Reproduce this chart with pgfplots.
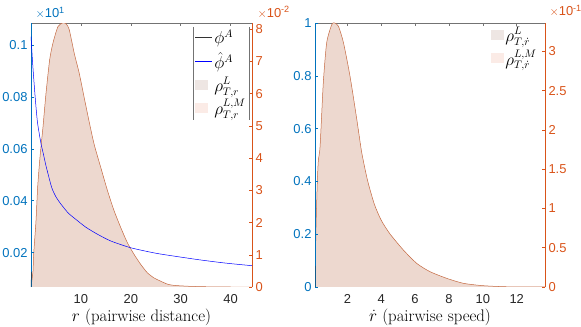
\documentclass[border=0pt]{standalone}
\usepackage{fontspec}
\usepackage{pgfplots}
\usepackage{pgfplotstable}
\pgfplotsset{compat=1.18}
\newfontfamily\hv{Liberation Sans}
\definecolor{mblue}{RGB}{0,114,189}
\definecolor{morange}{RGB}{217,83,25}
\definecolor{areafill}{RGB}{237,216,207}
\definecolor{areaedge}{RGB}{196,104,64}
\definecolor{legA}{RGB}{238,230,227}
\definecolor{legB}{RGB}{251,235,230}
\definecolor{ticktext}{RGB}{38,38,38}
\newcommand{\tickfont}{\hv\fontsize{13}{15}\selectfont}
\newcommand{\labfont}{\fontsize{16.8}{19}\selectfont}
\newcommand{\legfont}{\fontsize{16}{18}\selectfont}

% density of r (units 1e-2)
\pgfplotstableread{
r rho
0 0
0.4 0.49
0.53 1.01
1.0 2.05
1.33 3.09
1.74 3.92
2.13 4.55
2.4 4.96
3.0 6.0
3.74 7.05
4.4 7.57
5.4 8.08
6.33 8.19
7.0 8.17
7.67 7.98
8.67 7.25
9.67 6.63
10.67 5.87
11.67 5.12
12.67 4.42
14.0 3.70
15.33 2.99
16.67 2.36
18.0 1.84
19.33 1.37
20.67 1.01
22.0 0.70
23.33 0.44
24.67 0.28
26.0 0.18
27.33 0.09
28.67 0.05
32.0 0.02
36.0 0.005
40.0 0
44.3 0
}\rhoR

% estimated interaction kernel
\pgfplotstableread{
r phi
0 0.1032
0.33 0.0929
0.67 0.0839
1.0 0.0761
1.33 0.0697
2.0 0.0620
2.47 0.0581
3.0 0.0535
4.13 0.0452
5.0 0.0415
6.0 0.0387
7.5 0.0352
9.33 0.0323
11.0 0.0298
13.33 0.0271
16.0 0.0245
20.0 0.0219
25.0 0.0198
29.33 0.0185
34.0 0.0172
39.0 0.0160
44.3 0.0150
}\phihat

% density of rdot (units 1e-1)
\pgfplotstableread{
r rho
0.09 0
0.15 0.77
0.23 1.36
0.29 1.62
0.39 1.79
0.58 2.60
0.78 3.11
1.08 3.34
1.24 3.36
1.47 3.32
1.77 3.11
2.16 2.68
2.56 2.13
2.85 1.71
3.2 1.35
3.6 1.05
4.0 0.85
4.5 0.68
5.31 0.47
6.10 0.30
6.88 0.195
7.87 0.11
8.85 0.047
10.0 0.017
11.4 0.003
13.67 0
}\rhoV

\pgfplotsset{
  panel/.style={scale only axis, height=264bp, at={(#1,0bp)}, anchor=south west,
    clip mode=individual,
    axis line style={-, line width=0.5bp}, tick align=inside, major tick length=3bp,
    /pgf/number format/assume math mode=true, tick label style={font=\tickfont},
    every tick/.append style={line width=0.5bp}},
}

\begin{document}
\begin{tikzpicture}
\useasboundingbox (-31bp,-40bp) rectangle (550bp,287bp);

% ---- left panel, right axis (density)
\begin{axis}[panel=0bp, width=221bp,
  xmin=0, xmax=44.3, ymin=0, ymax=8.19,
  axis x line*=top, axis y line*=right,
  x axis line style={black!55}, xtick={10,20,30,40}, xticklabels={}, xtick style={black!55},
  y axis line style={morange}, ytick={0,...,8}, ytick style={morange},
  yticklabel style={text=morange}]
\addplot[fill=areafill, draw=none, smooth, tension=0.4] table {\rhoR} \closedcycle;
\addplot[draw=areaedge, line width=0.5bp, smooth, tension=0.4] table {\rhoR};
\node[anchor=base west, text=morange, font=\tickfont] at (rel axis cs:1,1) [xshift=2bp, yshift=6bp] {$\times$10\textsuperscript{-2}};
\end{axis}

% ---- left panel, left axis (kernels)
\begin{axis}[panel=0bp, width=221bp,
  xmin=0, xmax=44.3, ymin=0.0068, ymax=0.1084,
  axis x line*=bottom, axis y line*=left,
  x axis line style={draw=none}, xtick={10,20,30,40}, xtick style={draw=none},
  xticklabel style={text=ticktext, yshift=-4bp},
  y axis line style={mblue}, ytick={0.02,0.04,0.06,0.08,0.1},
  yticklabels={0.02,0.04,0.06,0.08,0.1}, ytick style={mblue},
  yticklabel style={text=mblue},
  xlabel={$r$ (pairwise distance)}, xlabel style={font=\labfont, yshift=2bp},
  legend cell align=left,
  legend style={name=legL, at={(0.986,0.985)}, anchor=north east, draw=none, fill=none,
    font=\legfont, inner sep=1bp, row sep=3bp}]
\addplot[black!80, line width=0.5bp] coordinates {(0.02,0.0068) (0.08,0.0125)};
\addlegendentry{$\phi^A$}
\addplot[blue, line width=0.5bp, smooth, tension=0.4] table {\phihat};
\addlegendentry{$\hat{\phi}^A$}
\addlegendimage{legend image code/.code={\fill[legA] (0bp,-4bp) rectangle (12bp,5bp);}}
\addlegendentry{$\rho^L_{T,r}$}
\addlegendimage{legend image code/.code={\fill[legB] (0bp,-4bp) rectangle (12bp,5bp);}}
\addlegendentry{$\rho^{L,M}_{T,r}$}
\node[anchor=base west, text=mblue, font=\tickfont] at (rel axis cs:0,1) [xshift=1bp, yshift=5bp] {$\times$10\textsuperscript{1}};
\end{axis}
\draw[black!55, line width=0.5bp] (legL.north west) -- (legL.south west);
\draw[black!55, line width=0.5bp] (legL.north east) -- (legL.south east);

% ---- right panel, right axis (density)
\begin{axis}[panel=284bp, width=230bp,
  xmin=0.09, xmax=13.67, ymin=0, ymax=3.36,
  axis x line*=top, axis y line*=right,
  x axis line style={black!55}, xtick={2,4,...,12}, xticklabels={}, xtick style={black!55},
  y axis line style={morange}, ytick={0,0.5,...,3}, yticklabels={0,0.5,1,1.5,2,2.5,3},
  ytick style={morange}, yticklabel style={text=morange}]
\addplot[fill=areafill, draw=none, smooth, tension=0.4] table {\rhoV} \closedcycle;
\addplot[draw=areaedge, line width=0.5bp, smooth, tension=0.4] table {\rhoV};
\node[anchor=base west, text=morange, font=\tickfont] at (rel axis cs:1,1) [xshift=1bp, yshift=7bp] {$\times$10\textsuperscript{-1}};
\end{axis}

% ---- right panel, left axis
\begin{axis}[panel=284bp, width=230bp,
  xmin=0.09, xmax=13.67, ymin=0, ymax=1,
  axis x line*=bottom, axis y line*=left,
  x axis line style={draw=none}, xtick={2,4,...,12}, xtick style={draw=none},
  xticklabel style={text=ticktext, yshift=-4bp},
  y axis line style={mblue}, ytick={0,0.2,...,1}, yticklabels={0,0.2,0.4,0.6,0.8,1},
  ytick style={mblue}, yticklabel style={text=mblue},
  xlabel={$\dot{r}$ (pairwise speed)}, xlabel style={font=\labfont, yshift=2bp},
  legend cell align=left,
  legend style={at={(0.978,0.995)}, anchor=north east, draw=none, fill=none,
    font=\legfont, inner sep=1bp, row sep=3bp}]
\addplot[black!80, line width=0.5bp, forget plot] coordinates {(0.09,0) (0.1,0.08)};
\addlegendimage{legend image code/.code={\fill[legA] (0bp,-4bp) rectangle (12bp,5bp);}}
\addlegendentry{$\rho^L_{T,\dot{r}}$}
\addlegendimage{legend image code/.code={\fill[legB] (0bp,-4bp) rectangle (12bp,5bp);}}
\addlegendentry{$\rho^{L,M}_{T,\dot{r}}$}
\end{axis}
\end{tikzpicture}
\end{document}
